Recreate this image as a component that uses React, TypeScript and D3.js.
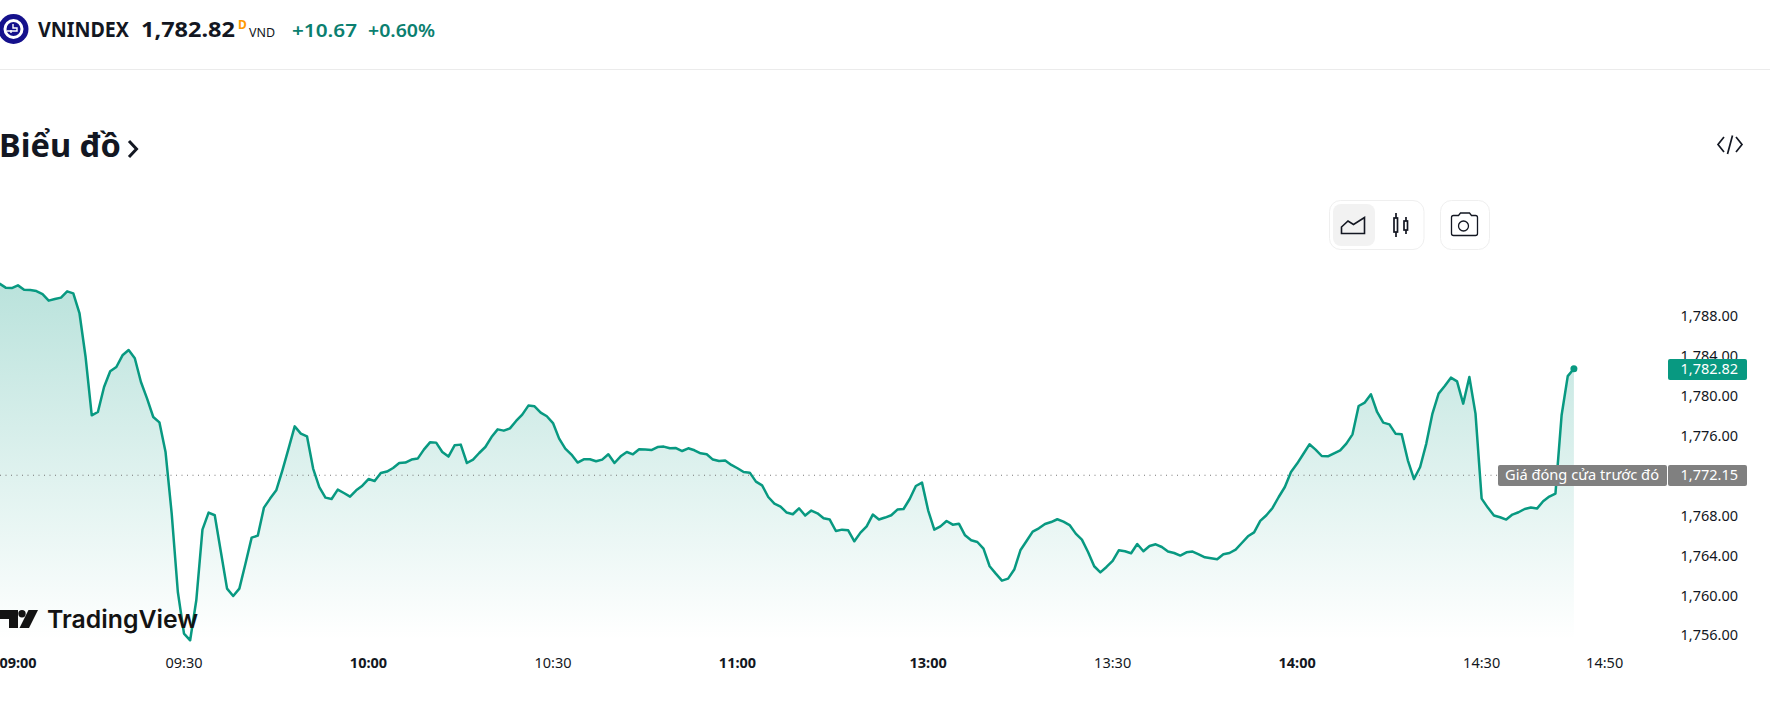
import React from "react";
import * as d3 from "d3";

// Minute-by-minute close, 09:00 to 11:30
const morningPrices = [
  1791.35,1790.95,1790.91,1791.18,1790.75,1790.71,1790.61,1790.31,1789.65,1789.81,
  1789.95,1790.58,1790.38,1788.41,1784.00,1778.16,1778.49,1780.99,1782.57,1783.00,
  1784.17,1784.70,1783.87,1781.49,1779.83,1777.99,1777.45,1774.48,1768.31,1760.45,
  1756.28,1755.61,1759.62,1766.70,1768.41,1768.14,1764.46,1760.79,1760.05,1760.79,
  1763.30,1765.90,1766.10,1768.91,1769.81,1770.64,1772.65,1774.82,1777.05,1776.32,
  1776.05,1772.82,1770.97,1769.91,1769.77,1770.71,1770.37,1770.01,1770.64,1771.11,
  1771.77,1771.57,1772.37,1772.52,1772.88,1773.38,1773.42,1773.72,1773.82,1774.72,
  1775.45,1775.42,1774.48,1774.02,1775.15,1775.22,1773.38,1773.72,1774.38,1774.98,
  1775.98,1776.75,1776.62,1776.85,1777.59,1778.23,1779.13,1779.06,1778.43,1778.06,
  1777.38,1775.82,1774.82,1774.22,1773.42,1773.75,1773.75,1773.55,1773.72,1774.25,
  1773.38,1774.05,1774.48,1774.25,1774.75,1774.72,1774.68,1774.98,1775.02,1774.85,
  1774.88,1774.58,1774.85,1774.65,1774.35,1774.25,1773.72,1773.58,1773.62,1773.18,
  1772.85,1772.47,1772.41,1771.51,1771.14,1769.97,1769.31,1769.01,1768.41,1768.24,
  1768.84,1768.11,1768.61,1768.34,1767.84,1767.71,1766.56,1766.70,1766.63,1765.53,
  1766.40,1767.03,1768.21,1767.71,1767.91,1768.14,1768.71,1768.77,1769.77,1771.07,
  1771.41,
];
// Minute-by-minute close, 13:00 to 14:45
const afternoonPrices = [
  1768.64,1766.70,1767.03,1767.57,1767.20,1767.30,1766.13,1765.63,1765.46,1764.80,
  1763.03,1762.29,1761.59,1761.79,1762.70,1764.63,1765.56,1766.50,1766.83,1767.26,
  1767.46,1767.74,1767.50,1767.16,1766.30,1765.70,1764.46,1763.03,1762.42,1762.96,
  1763.56,1764.63,1764.53,1764.33,1765.26,1764.53,1765.06,1765.23,1764.96,1764.50,
  1764.36,1764.10,1764.43,1764.50,1764.23,1763.93,1763.83,1763.73,1764.23,1764.36,
  1764.70,1765.36,1766.03,1766.43,1767.57,1768.14,1768.87,1769.97,1770.97,1772.47,
  1773.32,1774.28,1775.25,1774.72,1774.08,1774.05,1774.35,1774.65,1775.32,1776.25,
  1779.09,1779.43,1780.26,1778.49,1777.42,1777.25,1776.32,1776.25,1773.65,1771.77,
  1772.98,1775.32,1778.33,1780.33,1781.09,1781.93,1781.56,1779.33,1781.99,1778.33,
  1769.81,1768.91,1768.11,1767.94,1767.71,1768.21,1768.44,1768.77,1768.91,1768.81,
  1769.54,1770.01,1770.31,1778.16,1782.09,1782.82,
];
const lastPrice = 1782.82;
const previousClose = 1772.15;
// 1,772.00 has no label in the reference: the previous-close badge sits on that row.
const priceTicks = [1756, 1760, 1764, 1768, 1776, 1780, 1784, 1788];
const timeLabels = ["09:00", "09:30", "10:00", "10:30", "11:00", "13:00", "13:30", "14:00", "14:30", "14:50"];
const timeMinutes = [0, 30, 60, 90, 120, 151, 181, 211, 241, 261];
const timeMajor = [true, false, true, false, true, true, false, true, false, false];

const prices = [...morningPrices, ...afternoonPrices];
const fmt = d3.format(",.2f");
const FONT = "'Noto Sans', sans-serif";
const GREEN = "#089981";
const INK = "#131722";

const x = d3.scaleLinear().domain([0, 261]).range([-0.5, 1604.65]);
const y = d3.scaleLinear().domain([1756, 1788]).range([636.4, 317.1]);
const line = d3.line<number>().x((_, i) => x(i)).y((d) => y(d)).curve(d3.curveLinear);
const area = d3.area<number>().x((_, i) => x(i)).y0(640).y1((d) => y(d)).curve(d3.curveLinear);

export default function App() {
  const lastX = x(prices.length - 1);
  return (
    <svg
      width={1770}
      height={710}
      viewBox="0 0 1770 710"
      style={{ position: "absolute", left: 0, top: 0, display: "block", background: "#fff" }}
      fontFamily={FONT}
    >
      <defs>
        <linearGradient id="fade" gradientUnits="userSpaceOnUse" x1={0} x2={0} y1={283} y2={640}>
          <stop offset="0" stopColor={GREEN} stopOpacity={0.28} />
          <stop offset="1" stopColor={GREEN} stopOpacity={0} />
        </linearGradient>
      </defs>

      {/* header */}
      <circle cx={13.5} cy={29} r={15} fill="#15118c" />
      <circle cx={13.5} cy={29} r={8.5} fill="none" stroke="#fff" strokeWidth={3} />
      <path d="M7 31h10v-3h-4v-4M11 33v-3" stroke="#fff" strokeWidth={1.4} fill="none" />
      <text x={38} y={37} fontSize={21} fontWeight={700} fill={INK} textLength={91} lengthAdjust="spacingAndGlyphs">VNINDEX</text>
      <text x={141} y={37} fontSize={21} fontWeight={700} fill={INK} textLength={94} lengthAdjust="spacingAndGlyphs">1,782.82</text>
      <text x={238} y={29} fontSize={12} fontWeight={700} fill="#ff9800">D</text>
      <text x={249} y={37} fontSize={12.5} fill={INK}>VND</text>
      <text x={292} y={37} fontSize={18.5} fontWeight={600} fill="#0b7f70" textLength={65} lengthAdjust="spacingAndGlyphs">+10.67</text>
      <text x={368} y={37} fontSize={18.5} fontWeight={600} fill="#0b7f70" textLength={67} lengthAdjust="spacingAndGlyphs">+0.60%</text>
      <line x1={0} x2={1770} y1={69.5} y2={69.5} stroke="#ebebeb" />

      <text x={-1} y={157} fontSize={33} fontWeight={700} fill={INK} textLength={122} lengthAdjust="spacingAndGlyphs">Biểu đồ</text>
      <path d="M129 141l7.5 8-7.5 8" fill="none" stroke={INK} strokeWidth={3} />

      {/* embed icon */}
      <g fill="none" stroke={INK} strokeWidth={1.7}>
        <path d="M1724 137l-6 7.5 6 7.5M1736 137l6 7.5-6 7.5M1732.5 135.500l-5 18.500" />
      </g>

      {/* toolbar */}
      <rect x={1329.5} y={200.5} width={94.5} height={49} rx={11} fill="#fff" stroke="#efefef" />
      <rect x={1333} y={204} width={42} height={42} rx={8} fill="#f2f2f2" />
      <path d="M1341.500 233.500v-6.500l6.500-6 5.500 3.500 11-7v16z" fill="none" stroke={INK} strokeWidth={1.6} />
      <g fill="none" stroke={INK} strokeWidth={1.7}>
        <rect x={1394} y={218} width={3.5} height={14} />
        <path d="M1396 213v5M1396 232v5" />
        <rect x={1404} y={221} width={3.5} height={9} />
        <path d="M1406 217v4M1406 230v4" />
      </g>
      <rect x={1440.5} y={200.5} width={49} height={49} rx={11} fill="#fff" stroke="#efefef" />
      <g fill="none" stroke={INK} strokeWidth={1.3}>
        <path d="M1451.500 217.500a2 2 0 0 1 2-2h5l2-2.500h9l2 2.500h4a2 2 0 0 1 2 2v16a2 2 0 0 1-2 2h-22a2 2 0 0 1-2-2z" />
        <circle cx={1463.500} cy={226} r={5} />
      </g>

      {/* plot */}
      <path d={area(prices) ?? ""} fill="url(#fade)" />
      <line x1={0} x2={1498} y1={y(previousClose)} y2={y(previousClose)} stroke="#777" strokeWidth={1} strokeDasharray="1 4.500" />
      <path d={line(prices) ?? ""} fill="none" stroke={GREEN} strokeWidth={2.5} strokeLinejoin="round" />
      <circle cx={lastX} cy={y(lastPrice)} r={3.5} fill={GREEN} />

      {/* logo */}
      <g fill="#131313">
        <path d="M0 610h18v18h-9v-9h-9z" />
        <circle cx={22} cy={613.7} r={3.7} />
        <path d="M28.500 610h9.500l-9 18h-9.500z" />
        <text x={47} y={628} fontSize={24.5} fontWeight={600} fontFamily="Inter, sans-serif" textLength={151} lengthAdjust="spacingAndGlyphs">TradingView</text>
      </g>

      {/* price axis */}
      {priceTicks.map((t) => (
        <text key={t} x={1738} y={y(t)} dy="0.28em" fontSize={14.5} textAnchor="end" fill={INK}>{fmt(t)}</text>
      ))}
      <rect x={1668} y={359} width={79} height={21} rx={2} fill={GREEN} />
      <text x={1738} y={y(lastPrice)} dy="0.35em" fontSize={14.5} textAnchor="end" fill="#fff">{fmt(lastPrice)}</text>
      <rect x={1498} y={465} width={169} height={21} rx={2} fill="#808080" />
      <rect x={1668} y={465} width={79} height={21} rx={2} fill="#808080" />
      <text x={1505} y={y(previousClose)} dy="0.3em" fontSize={14.5} fill="#fff" textLength={154} lengthAdjust="spacingAndGlyphs">Giá đóng cửa trước đó</text>
      <text x={1738} y={y(previousClose)} dy="0.3em" fontSize={14.5} textAnchor="end" fill="#fff">{fmt(previousClose)}</text>

      {/* time axis */}
      {timeLabels.map((label, i) => (
        <text
          key={label}
          x={Math.max(x(timeMinutes[i]), 18)}
          y={668}
          fontSize={14.5}
          fontWeight={timeMajor[i] ? 700 : 400}
          textAnchor="middle"
          fill={INK}
        >
          {label}
        </text>
      ))}
    </svg>
  );
}
